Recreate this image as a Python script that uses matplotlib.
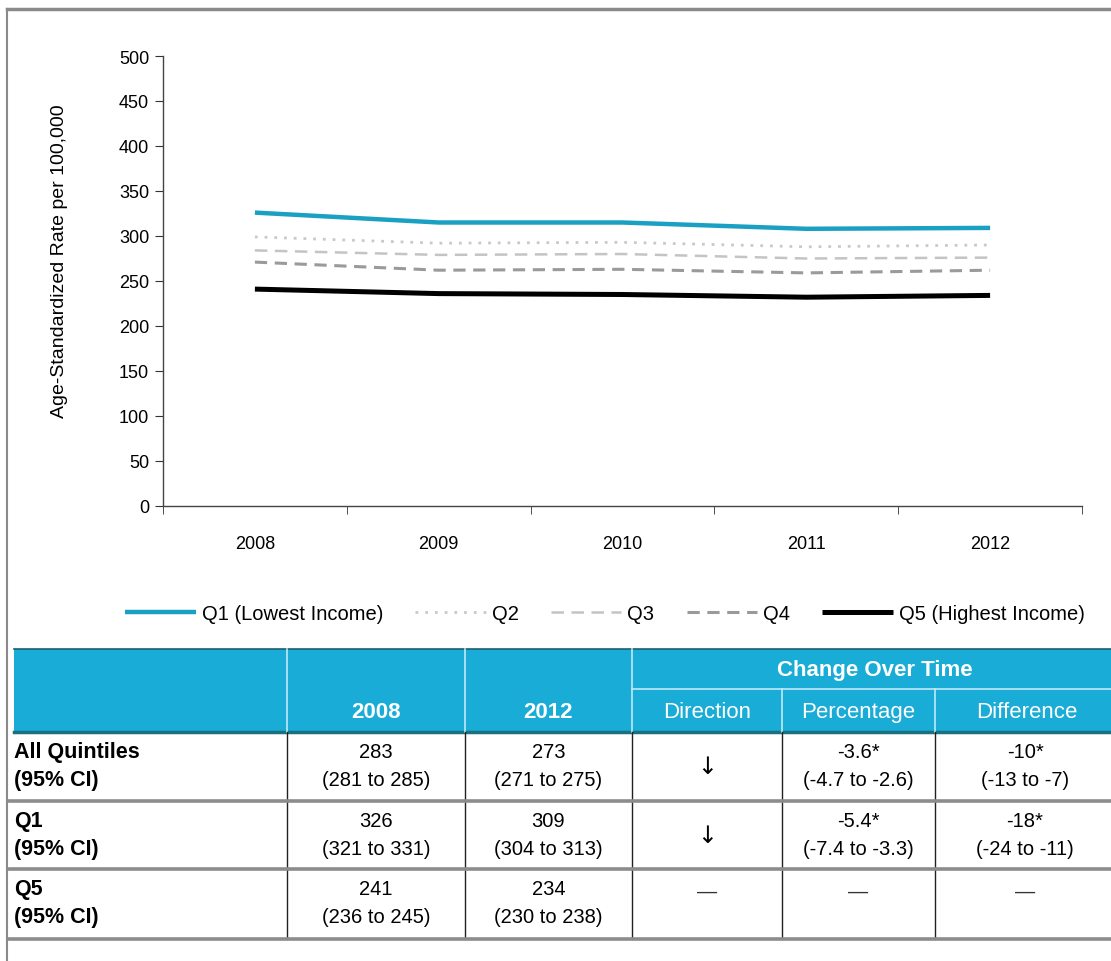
import matplotlib
matplotlib.use("Agg")
import matplotlib.pyplot as plt
from matplotlib.patches import Rectangle

plt.rcParams['font.family'] = ['Liberation Sans', 'DejaVu Sans']

# ---------------- data ----------------
years = ["2008", "2009", "2010", "2011", "2012"]
q1 = [326, 315, 315, 308, 309]
q2 = [299, 292, 293, 288, 290]
q3 = [284, 279, 280, 275, 276]
q4 = [271, 262, 263, 259, 262]
q5 = [241, 236, 235, 232, 234]
series_names = ["Q1 (Lowest Income)", "Q2", "Q3", "Q4", "Q5 (Highest Income)"]
y_ticks = [0, 50, 100, 150, 200, 250, 300, 350, 400, 450, 500]
y_label = "Age-Standardized Rate per 100,000"

header_top = ["", "", "", "Change Over Time"]
header_sub = ["", "2008", "2012", "Direction", "Percentage", "Difference"]
row_labels = [("All Quintiles", "(95% CI)"), ("Q1", "(95% CI)"), ("Q5", "(95% CI)")]
col_2008 = [("283", "(281 to 285)"), ("326", "(321 to 331)"), ("241", "(236 to 245)")]
col_2012 = [("273", "(271 to 275)"), ("309", "(304 to 313)"), ("234", "(230 to 238)")]
col_dir = ["\u2193", "\u2193", "\u2014"]
col_pct = [("-3.6*", "(-4.7 to -2.6)"), ("-5.4*", "(-7.4 to -3.3)"), ("\u2014", "")]
col_diff = [("-10*", "(-13 to -7)"), ("-18*", "(-24 to -11)"), ("\u2014", "")]

# ---------------- figure ----------------
W, H = 1111, 962
fig = plt.figure(figsize=(W / 100, H / 100), dpi=100)

tab = fig.add_axes([0, 0, 1, 1])
tab.set_xlim(0, W)
tab.set_ylim(H, 0)
tab.axis("off")

ax = fig.add_axes([163 / W, 1 - 507 / H, (1082 - 163) / W, (507 - 57) / H])
x = list(range(len(years)))
styles = [
    dict(color="#1aa0c2", lw=3.2, ls="-"),
    dict(color="#c9c9c9", lw=2.0, ls=(0, (1, 2.5))),
    dict(color="#c4c4c4", lw=1.8, ls=(0, (5, 3))),
    dict(color="#9a9a9a", lw=2.2, ls=(0, (4, 2.5))),
    dict(color="#000000", lw=3.6, ls="-"),
]
for vals, name, st in zip([q1, q2, q3, q4, q5], series_names, styles):
    ax.plot(x, vals, label=name, solid_capstyle="butt", **st)

ax.set_xlim(-0.5, len(years) - 0.5)
ax.set_ylim(0, 500)
ax.set_yticks(y_ticks)
ax.set_xticks(x)
ax.set_xticklabels(years)
ax.set_xticks([i - 0.5 for i in range(len(years) + 1)], minor=True)
ax.tick_params(axis="x", which="major", length=0, pad=21, labelsize=13)
ax.tick_params(axis="x", which="minor", length=6, direction="out", color="#333333")
ax.tick_params(axis="y", length=6, direction="out", labelsize=13, pad=4, color="#333333")
for s in ["top", "right"]:
    ax.spines[s].set_visible(False)
for s in ["left", "bottom"]:
    ax.spines[s].set_color("#444444")
    ax.spines[s].set_linewidth(1.0)
ax.set_ylabel(y_label, fontsize=14)
ax.yaxis.set_label_coords(-0.103, 0.547)
ax.patch.set_alpha(0)

leg = fig.legend(loc="center", bbox_to_anchor=(605 / W, 1 - 615 / H), ncol=5,
                 frameon=False, fontsize=14.5, handlelength=3.5, columnspacing=1.6,
                 handletextpad=0.3)

# ---------------- frame ----------------
tab.plot([7, W], [10, 10], color="#8a8a8a", lw=2.5)
tab.plot([7, 7], [10, H], color="#8a8a8a", lw=1.5)

# ---------------- table ----------------
cols = [14, 287, 465, 632, 782, 935, W + 40]
hdr_top, hdr_mid, hdr_bot = 650, 690, 733
row_y = [733, 802, 870, 940]
blue = "#19acd6"
tab.add_patch(Rectangle((cols[0], hdr_top), cols[-1] - cols[0], hdr_bot - hdr_top,
                        facecolor=blue, edgecolor="none"))
tab.plot([cols[0], W], [hdr_top, hdr_top], color="#1d5f70", lw=1.2)
tab.plot([cols[0], W], [hdr_bot, hdr_bot], color="#1a6f80", lw=2.5)
tab.plot([cols[3], W], [hdr_mid, hdr_mid], color="#bfeaf6", lw=1.2)
for c in cols[1:4]:
    tab.plot([c, c], [hdr_top, hdr_bot], color="#bfeaf6", lw=1.2)
for c in cols[4:6]:
    tab.plot([c, c], [hdr_mid, hdr_bot], color="#bfeaf6", lw=1.2)

tab.text(875, (hdr_top + hdr_mid) / 2 + 1, header_top[3],
         color="white", fontsize=16, fontweight="bold", ha="center", va="center")
for i in range(1, 6):
    tab.text((cols[i] + min(cols[i + 1], W)) / 2 + (4 if i == 5 else 0),
             (hdr_mid + hdr_bot) / 2 + 1, header_sub[i], color="white", fontsize=16,
             fontweight="bold" if i in (1, 2) else "normal", ha="center", va="center")

for c in cols[1:6]:
    tab.plot([c, c], [row_y[0], row_y[-1]], color="#222222", lw=1.0)
for yy in row_y[1:]:
    tab.plot([cols[0] - 6, W], [yy, yy], color="#8c8c8c", lw=2.6)

fs = 14.5
for r in range(3):
    top = row_y[r]
    y1, y2 = top + 20, top + 48
    tab.text(cols[0], y1, row_labels[r][0], fontsize=15.5, fontweight="bold", va="center", ha="left")
    tab.text(cols[0], y2, row_labels[r][1], fontsize=15.5, fontweight="bold", va="center", ha="left")
    for ci, colvals in ((1, col_2008), (2, col_2012), (4, col_pct), (5, col_diff)):
        cx = (cols[ci] + min(cols[ci + 1], W)) / 2 + (2 if ci == 5 else 0)
        a, b = colvals[r]
        if b:
            tab.text(cx, y1, a, fontsize=fs, va="center", ha="center")
            tab.text(cx, y2, b, fontsize=fs, va="center", ha="center")
        else:
            tab.text(cx, y1 + 2, a, fontsize=fs, va="center", ha="center", color="#333333")
    cx = (cols[3] + cols[4]) / 2
    if col_dir[r] == "\u2014":
        tab.text(cx, y1 + 2, col_dir[r], fontsize=fs, va="center", ha="center", color="#333333")
    else:
        tab.text(cx, (y1 + y2) / 2, col_dir[r], fontsize=17, va="center", ha="center",
                 family=["DejaVu Sans"])

fig.savefig("out.png", dpi=100)
